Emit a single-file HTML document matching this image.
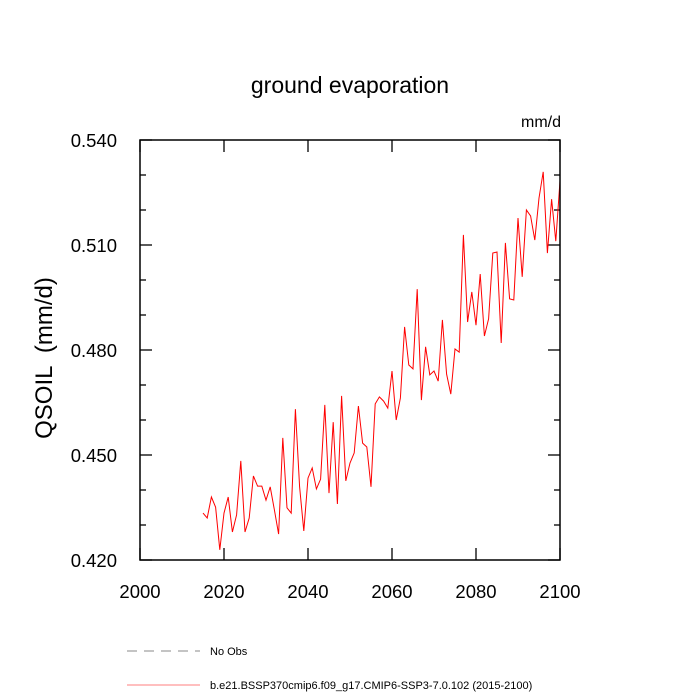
<!DOCTYPE html>
<html><head><meta charset="utf-8"><style>
html,body{margin:0;padding:0;background:#fff;}
svg{display:block;font-family:"Liberation Sans",sans-serif;}
</style></head><body>
<svg id="chart" width="700" height="700">
<text x="350" y="93" font-size="23" text-anchor="middle">ground evaporation</text>
<text x="561" y="127" font-size="16" text-anchor="end">mm/d</text>
<text transform="translate(52,358) rotate(-90)" font-size="24" text-anchor="middle" xml:space="preserve">QSOIL  (mm/d)</text>
<g id="axes"></g>
<polyline id="series" fill="none" stroke="#ff0000" stroke-width="1"></polyline>
<rect x="140" y="140" width="420" height="420" fill="none" stroke="#000" stroke-width="1.5"/>
<g>
<line x1="127" y1="651" x2="200" y2="651" stroke="#888" stroke-dasharray="10,7"/>
<text x="210" y="655" font-size="11">No Obs</text>
<line x1="127" y1="685" x2="200" y2="685" stroke="#ff0000" stroke-width="0.6"/>
<text x="210" y="689" font-size="11">b.e21.BSSP370cmip6.f09_g17.CMIP6-SSP3-7.0.102 (2015-2100)</text>
</g>
</svg>
<script>
const startYear = 2015;
const values = [0.4334,0.4320,0.4380,0.4351,0.4229,0.4334,0.4380,0.4280,0.4329,0.4483,
0.4280,0.4320,0.4440,0.4411,0.4411,0.4371,0.4409,0.4343,0.4274,0.4549,
0.4349,0.4334,0.4631,0.4409,0.4283,0.4434,0.4463,0.4403,0.4431,0.4643,
0.4391,0.4594,0.4360,0.4669,0.4426,0.4477,0.4506,0.4640,0.4534,0.4523,
0.4409,0.4646,0.4666,0.4654,0.4634,0.4740,0.4600,0.4663,0.4866,0.4757,
0.4746,0.4974,0.4657,0.4809,0.4729,0.4740,0.4711,0.4886,0.4731,0.4674,
0.4803,0.4794,0.5129,0.4880,0.4966,0.4871,0.5017,0.4840,0.4889,0.5077,
0.5080,0.4820,0.5106,0.4946,0.4943,0.5177,0.5009,0.5200,0.5183,0.5114,
0.5234,0.5309,0.5077,0.5231,0.5111,0.5283];
const xTicks = [2000,2020,2040,2060,2080,2100];
const yTicks = [0.420,0.450,0.480,0.510,0.540];
const yMinor = [0.43,0.44,0.46,0.47,0.49,0.50,0.52,0.53];
const X0=140,X1=560,Y0=560,Y1=140;
const xs = v => X0 + (v-2000)/(100)*(X1-X0);
const ys = v => Y0 - (v-0.42)/(0.12)*(Y0-Y1);
const NS="http://www.w3.org/2000/svg";
const ax=document.getElementById('axes');
function ln(x1,y1,x2,y2,name){const l=document.createElementNS(NS,'line');
l.setAttribute('x1',x1);l.setAttribute('y1',y1);l.setAttribute('x2',x2);l.setAttribute('y2',y2);
l.setAttribute('stroke','#000');l.setAttribute('stroke-width','1.3');


ax.appendChild(l);}
function tx(x,y,s,anchor,name){const t=document.createElementNS(NS,'text');
t.setAttribute('x',x);t.setAttribute('y',y);t.setAttribute('font-size','18.5');t.setAttribute('text-anchor',anchor);t.textContent=s;


ax.appendChild(t);}
xTicks.forEach(v=>{const x=xs(v);ln(x,Y0,x,Y0-12,'x-tick');ln(x,Y1,x,Y1+12,'x-tick-top');tx(x,Y0+38,String(v),'middle','x-tick-label');});
yTicks.forEach(v=>{const y=ys(v);ln(X0,y,X0+12,y,'y-tick');ln(X1,y,X1-12,y,'y-tick-right');tx(X0-23,y+7,v.toFixed(3),'end','y-tick-label');});
yMinor.forEach(v=>{const y=ys(v);ln(X0,y,X0+6,y,'y-minor-tick');ln(X1,y,X1-6,y,'y-minor-tick-right');});
document.getElementById('series').setAttribute('points',values.map((v,i)=>xs(startYear+i)+','+ys(v)).join(' '));
</script>
</body></html>
